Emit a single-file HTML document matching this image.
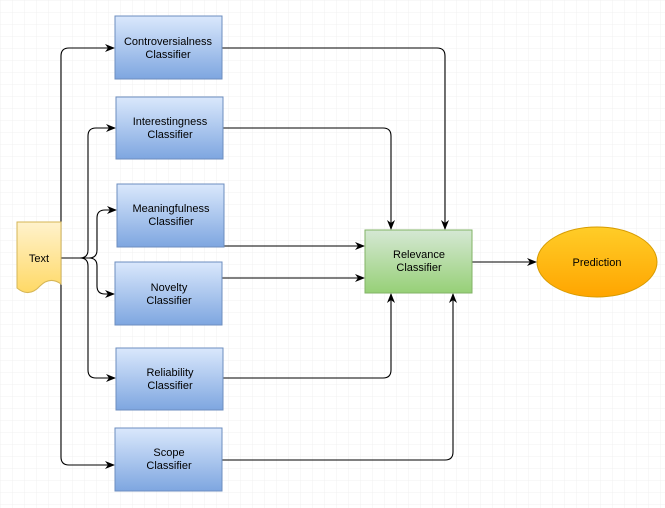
<!DOCTYPE html>
<html><head><meta charset="utf-8"><style>
html,body{margin:0;padding:0;background:#fff}
svg{display:block}
text{font-family:"Liberation Sans",Arial,sans-serif;font-size:11px;fill:#000}
</style></head><body>
<svg width="665" height="508" viewBox="0 0 665 508" xmlns="http://www.w3.org/2000/svg">
<defs>
<pattern id="g" width="12" height="12" patternUnits="userSpaceOnUse"><path d="M12 0H0V12" fill="none" stroke="#f0f0f0" stroke-width="1"/></pattern>
<linearGradient id="b" x1="0" y1="0" x2="0" y2="1"><stop offset="0" stop-color="#dae8fc"/><stop offset="1" stop-color="#7ea6e0"/></linearGradient>
<linearGradient id="gr" x1="0" y1="0" x2="0" y2="1"><stop offset="0" stop-color="#d5e8d4"/><stop offset="1" stop-color="#97d077"/></linearGradient>
<linearGradient id="y" x1="0" y1="0" x2="0" y2="1"><stop offset="0" stop-color="#fff2cc"/><stop offset="1" stop-color="#ffd966"/></linearGradient>
<linearGradient id="o" x1="0" y1="0" x2="0" y2="1"><stop offset="0" stop-color="#ffcd28"/><stop offset="1" stop-color="#ffa500"/></linearGradient>
<marker id="a" markerWidth="10" markerHeight="8" refX="9" refY="4" orient="auto" markerUnits="userSpaceOnUse"><path d="M0 0L10 4L0 8L3 4Z" fill="#000"/></marker>
</defs>
<rect width="665" height="508" fill="url(#g)"/>
<g fill="none" stroke="#000" stroke-width="1.1" marker-end="url(#a)">
<path d="M61 258V56Q61 48 69 48H114"/>
<path d="M61 258V457Q61 465 69 465H114"/>
<path d="M61 258H80Q88 258 88 250V136Q88 128 96 128H115"/>
<path d="M61 258H80Q88 258 88 266V370Q88 378 96 378H115"/>
<path d="M61 258H89Q97 258 97 250V218Q97 210 105 210H116"/>
<path d="M61 258H89Q97 258 97 266V286Q97 294 105 294H114"/>
<path d="M222 48H437Q445 48 445 56V229"/>
<path d="M223 128H383Q391 128 391 136V229"/>
<path d="M224 246H364"/>
<path d="M222 278H364"/>
<path d="M223 378H383Q391 378 391 370V294"/>
<path d="M222 460H445Q453 460 453 452V294"/>
<path d="M472 262H536"/>
</g>
<g stroke="#6c8ebf" stroke-width="1" fill="url(#b)">
<rect x="115" y="16" width="107" height="63"/>
<rect x="116" y="97" width="107" height="62"/>
<rect x="117" y="184" width="107" height="63"/>
<rect x="115" y="262" width="107" height="63"/>
<rect x="116" y="348" width="107" height="62"/>
<rect x="115" y="428" width="107" height="63"/>
</g>
<rect x="365" y="230" width="107" height="63" fill="url(#gr)" stroke="#82b366"/>
<ellipse cx="597" cy="262" rx="60" ry="35" fill="url(#o)" stroke="#d79b00"/>
<path d="M17 222H61V284Q50 276 40 286Q29 298 17 288Z" fill="url(#y)" stroke="#d6b656"/>
<g text-anchor="middle">
<text x="168" y="45">Controversialness</text><text x="168" y="58">Classifier</text>
<text x="170" y="125">Interestingness</text><text x="170" y="138">Classifier</text>
<text x="171" y="212">Meaningfulness</text><text x="171" y="225">Classifier</text>
<text x="169" y="291">Novelty</text><text x="169" y="304">Classifier</text>
<text x="170" y="376">Reliability</text><text x="170" y="389">Classifier</text>
<text x="169" y="456">Scope</text><text x="169" y="469">Classifier</text>
<text x="419" y="258">Relevance</text><text x="419" y="271">Classifier</text>
<text x="597" y="266">Prediction</text>
<text x="39" y="262">Text</text>
</g>
</svg>
</body></html>
